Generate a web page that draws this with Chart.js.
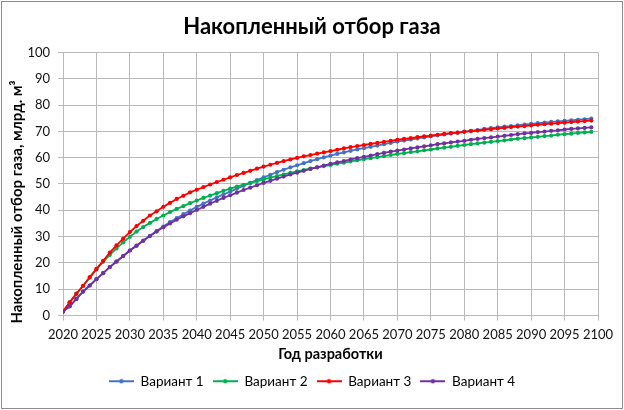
<!DOCTYPE html>
<html>
<head>
<meta charset="utf-8">
<script src="https://cdn.jsdelivr.net/npm/chart.js@4.4.1/dist/chart.umd.min.js"></script>
<style>
  html, body { margin: 0; padding: 0; background: #fff; }
  #wrap { width: 624px; height: 410px; }
</style>
</head>
<body>
<div id="wrap"><canvas id="cnv" width="624" height="410"></canvas></div>
<script>
(function(){

    // годы разработки
    var years = [
        2020, 2021, 2022, 2023, 2024, 2025, 2026, 2027, 2028, 2029,
        2030, 2031, 2032, 2033, 2034, 2035, 2036, 2037, 2038, 2039,
        2040, 2041, 2042, 2043, 2044, 2045, 2046, 2047, 2048, 2049,
        2050, 2051, 2052, 2053, 2054, 2055, 2056, 2057, 2058, 2059,
        2060, 2061, 2062, 2063, 2064, 2065, 2066, 2067, 2068, 2069,
        2070, 2071, 2072, 2073, 2074, 2075, 2076, 2077, 2078, 2079,
        2080, 2081, 2082, 2083, 2084, 2085, 2086, 2087, 2088, 2089,
        2090, 2091, 2092, 2093, 2094, 2095, 2096, 2097, 2098, 2099
    ];

    var seriesNames = ["Вариант 1", "Вариант 2", "Вариант 3", "Вариант 4"];

    var variant1 = [
        1.5, 3.5, 6.3, 9.1, 11.4, 13.8, 16.1, 18.4, 20.5, 22.6,
        24.7, 26.6, 28.5, 30.3, 32.1, 33.8, 35.5, 37.0, 38.5, 39.9,
        41.3, 42.5, 43.7, 44.9, 46.0, 47.1, 48.2, 49.3, 50.4, 51.5,
        52.5, 53.5, 54.5, 55.4, 56.3, 57.1, 57.9, 58.7, 59.4, 60.1,
        60.8, 61.4, 62.0, 62.6, 63.1, 63.6, 64.1, 64.6, 65.1, 65.6,
        66.1, 66.5, 66.9, 67.3, 67.7, 68.1, 68.5, 68.8, 69.2, 69.5,
        69.9, 70.2, 70.5, 70.9, 71.2, 71.5, 71.8, 72.0, 72.3, 72.6,
        72.8, 73.1, 73.3, 73.6, 73.8, 74.0, 74.2, 74.4, 74.6, 74.8
    ];
    var variant2 = [
        1.5, 5.0, 8.2, 11.2, 14.4, 17.5, 20.4, 23.0, 25.5, 27.8,
        29.9, 31.9, 33.6, 35.2, 36.7, 38.0, 39.3, 40.5, 41.6, 42.7,
        43.7, 44.7, 45.6, 46.5, 47.4, 48.2, 49.0, 49.7, 50.4, 51.1,
        51.7, 52.4, 53.0, 53.6, 54.2, 54.8, 55.3, 55.8, 56.3, 56.8,
        57.2, 57.7, 58.1, 58.6, 59.0, 59.4, 59.8, 60.2, 60.6, 61.0,
        61.4, 61.7, 62.1, 62.4, 62.8, 63.1, 63.5, 63.8, 64.1, 64.5,
        64.8, 65.1, 65.4, 65.7, 66.0, 66.3, 66.6, 66.9, 67.2, 67.4,
        67.7, 67.9, 68.2, 68.4, 68.7, 68.9, 69.1, 69.4, 69.6, 69.8
    ];
    var variant3 = [
        1.5, 5.0, 8.3, 11.3, 14.6, 17.7, 20.8, 23.9, 26.7, 29.2,
        31.7, 34.0, 36.0, 38.0, 39.6, 41.3, 42.8, 44.3, 45.5, 46.8,
        47.8, 48.8, 49.8, 50.7, 51.6, 52.5, 53.4, 54.2, 55.0, 55.8,
        56.6, 57.3, 58.0, 58.7, 59.3, 59.9, 60.5, 61.0, 61.5, 62.0,
        62.5, 63.0, 63.5, 64.0, 64.4, 64.8, 65.2, 65.6, 66.0, 66.4,
        66.8, 67.1, 67.4, 67.8, 68.1, 68.4, 68.7, 69.0, 69.3, 69.5,
        69.8, 70.1, 70.3, 70.6, 70.8, 71.1, 71.3, 71.6, 71.8, 72.0,
        72.3, 72.5, 72.7, 72.9, 73.1, 73.3, 73.5, 73.7, 73.9, 74.1
    ];
    var variant4 = [
        1.5, 3.5, 6.3, 9.1, 11.4, 13.8, 16.1, 18.4, 20.5, 22.6,
        24.7, 26.5, 28.4, 30.2, 31.9, 33.5, 35.0, 36.4, 37.7, 38.9,
        40.1, 41.3, 42.5, 43.6, 44.7, 45.7, 46.7, 47.7, 48.6, 49.5,
        50.4, 51.2, 52.0, 52.8, 53.6, 54.3, 55.0, 55.7, 56.3, 57.0,
        57.6, 58.2, 58.7, 59.3, 59.8, 60.3, 60.8, 61.3, 61.8, 62.3,
        62.7, 63.1, 63.5, 63.9, 64.3, 64.7, 65.1, 65.4, 65.8, 66.1,
        66.4, 66.8, 67.1, 67.4, 67.7, 68.0, 68.3, 68.6, 68.9, 69.2,
        69.4, 69.7, 69.9, 70.2, 70.4, 70.7, 70.9, 71.1, 71.3, 71.5
    ];

    var yTitle = "Накопленный отбор газа, млрд. м³";

    var colors = ["#4472C4", "#00B050", "#FF0000", "#7030A0"];
    var font = "Lato, 'Open Sans', sans-serif";
    var gridColor = "#b9b9b9";

    // значок легенды: линия с точкой
    function legendIcon(color){
        var c = document.createElement("canvas");
        c.width = 25; c.height = 8;
        var g = c.getContext("2d");
        g.strokeStyle = color; g.lineWidth = 2;
        g.beginPath(); g.moveTo(0, 4); g.lineTo(25, 4); g.stroke();
        g.fillStyle = color;
        g.beginPath(); g.arc(12.5, 4, 2.2, 0, Math.PI * 2); g.fill();
        return c;
    }

    function makeSet(i, values){
        return {
            label: seriesNames[i],
            data: values,
            borderColor: colors[i],
            backgroundColor: colors[i],
            borderWidth: 1.8,
            pointRadius: 2.1,
            pointBorderWidth: 0,
            pointHoverRadius: 3,
            pointStyle: "circle",
            tension: 0,
            order: 4 - i
        };
    }

    // фон, рамка и подпись оси Y (в Excel она чуть смещена вниз)
    var frame = {
        id: "frame",
        beforeDraw: function(chart){
            var ctx = chart.ctx;
            ctx.save();
            ctx.fillStyle = "#fff";
            ctx.fillRect(0, 0, chart.width, chart.height);
            ctx.strokeStyle = "#8c8c8c";
            ctx.lineWidth = 1;
            ctx.strokeRect(1.5, 1.5, chart.width - 3, chart.height - 3);
            ctx.restore();
        },
        afterDraw: function(chart){
            var ctx = chart.ctx;
            ctx.save();
            ctx.translate(17, 202);
            ctx.rotate(-Math.PI / 2);
            ctx.fillStyle = "#000";
            ctx.font = "bold 15px " + font;
            ctx.textAlign = "center";
            ctx.textBaseline = "middle";
            ctx.fillText(yTitle, 0, 0);
            ctx.restore();
        }
    };

    var data = {
        labels: years,
        datasets: [
            makeSet(0, variant1),
            makeSet(1, variant2),
            makeSet(2, variant3),
            makeSet(3, variant4)
        ]
    };

    var opt = {
        responsive: false,
        animation: false,
        devicePixelRatio: 1,
        layout: { padding: { left: 0, right: 0, top: 0, bottom: 12 } },
        plugins: {
            title: {
                display: true,
                text: "Накопленный отбор газа",
                color: "#000",
                font: { family: font, size: 22, weight: "bold" },
                padding: { top: 14, bottom: 12 }
            },
            legend: {
                position: "bottom",
                labels: {
                    usePointStyle: true,
                    pointStyleWidth: 25,
                    color: "#111",
                    font: { family: font, size: 13.5 },
                    padding: 9,
                    sort: function(a, b){ return a.datasetIndex - b.datasetIndex; },
                    generateLabels: function(chart){
                        return chart.data.datasets.map(function(ds, i){
                            return {
                                text: ds.label,
                                pointStyle: legendIcon(colors[i]),
                                fillStyle: colors[i],
                                strokeStyle: colors[i],
                                lineWidth: 0,
                                hidden: false,
                                datasetIndex: i
                            };
                        });
                    }
                }
            },
            tooltip: { enabled: false }
        },
        scales: {
            x: {
                type: "linear",
                min: 2020,
                max: 2100,
                afterFit: function(scale){ scale.height = 50; },
                ticks: {
                    stepSize: 5,
                    autoSkip: false,
                    maxRotation: 0,
                    color: "#111",
                    font: { family: font, size: 13 },
                    padding: 7,
                    callback: function(v){ return String(v); }
                },
                grid: { color: gridColor, tickLength: 5, tickColor: gridColor },
                border: { color: gridColor },
                title: {
                    display: true,
                    text: "Год разработки",
                    color: "#000",
                    font: { family: font, size: 14.5, weight: "bold" },
                    padding: { top: 2, bottom: 2 }
                }
            },
            y: {
                min: 0,
                max: 100,
                afterFit: function(scale){ scale.width = 63; },
                ticks: {
                    stepSize: 10,
                    color: "#111",
                    font: { family: font, size: 13 },
                    padding: 8
                },
                grid: { color: gridColor, tickLength: 5, tickColor: gridColor },
                border: { color: gridColor }
            },
            // пустая ось справа только для отступа
            yPad: {
                position: "right",
                min: 0,
                max: 100,
                afterFit: function(scale){ scale.width = 26; },
                ticks: { display: false },
                grid: { display: false },
                border: { display: false }
            }
        }
    };

    var myChart = new Chart(document.getElementById("cnv"), {
        type: "line",
        data: data,
        options: opt,
        plugins: [frame]
    });

})();
</script>
</body>
</html>
